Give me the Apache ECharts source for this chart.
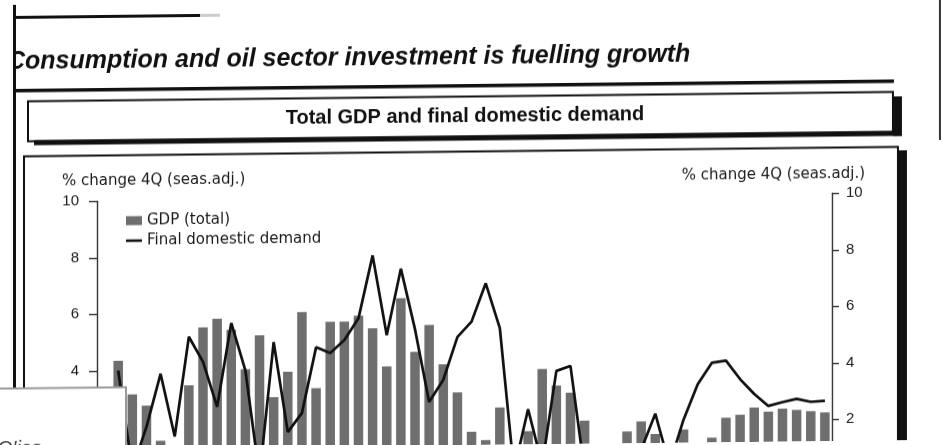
<!DOCTYPE html>
<html>
<head>
<meta charset="utf-8">
<script src="https://cdn.jsdelivr.net/npm/echarts@6/dist/echarts.min.js"></script>
<style>
  html, body { margin: 0; padding: 0; background: #fff; overflow: hidden; }
  /* the printed page is slightly skewed */
  #page { width: 943px; height: 445px; transform: skewY(-0.62deg); transform-origin: 50% 50%; }
</style>
</head>
<body>
<div id="page"></div>
<script>
// Quarterly categories (first slot left empty, as on the printed axis)
const quarters = [
  '1984Q1','1984Q2','1984Q3','1984Q4','1985Q1','1985Q2','1985Q3','1985Q4',
  '1986Q1','1986Q2','1986Q3','1986Q4','1987Q1','1987Q2','1987Q3','1987Q4',
  '1988Q1','1988Q2','1988Q3','1988Q4','1989Q1','1989Q2','1989Q3','1989Q4',
  '1990Q1','1990Q2','1990Q3','1990Q4','1991Q1','1991Q2','1991Q3','1991Q4',
  '1992Q1','1992Q2','1992Q3','1992Q4','1993Q1','1993Q2','1993Q3','1993Q4',
  '1994Q1','1994Q2','1994Q3','1994Q4','1995Q1','1995Q2','1995Q3','1995Q4',
  '1996Q1','1996Q2','1996Q3','1996Q4'
];

// % change over 4 quarters, seasonally adjusted
const gdpTotal = [null,
  4.35, 3.15, 2.75, 1.5, 1.1, 3.45, 5.5, 5.8, 5.4, 4.0,
  5.2, 3.0, 3.9, 6.0, 3.3, 5.65, 5.65, 5.85, 5.4, 4.05,
  6.45, 4.55, 5.5, 4.1, 3.1, 1.7, 1.4, 2.55, 0.9, 1.7,
  3.9, 3.3, 3.05, 2.05, 0.9, 0.9, 1.65, 2.0, 1.55, 0.9,
  1.7, 0.9, 1.4, 2.1, 2.2, 2.45, 2.3, 2.4, 2.35, 2.3, 2.25
];
const finalDomesticDemand = [null,
  4.0, 0.5, 2.0, 3.87, 1.65, 5.17, 4.28, 2.68, 5.64, 3.95,
  0.2, 4.95, 1.76, 2.43, 4.75, 4.54, 4.99, 5.76, 7.98, 5.15,
  7.5, 5.35, 2.77, 3.55, 5.06, 5.6, 6.95, 5.36, 0.3, 2.48,
  0.5, 3.82, 3.99, 0.25, 0.3, 0.6, 0.5, 1.0, 2.27, 0.45,
  2.05, 3.29, 4.05, 4.12, 3.46, 2.93, 2.5, 2.63, 2.74, 2.63, 2.66
];

// value axis range and tick step (both sides share the same scale)
const axisMin = -4;
const axisMax = 10;
const axisStep = 2;

const headline = 'Consumption and oil sector investment is fuelling growth';
const boxTitle = 'Total GDP and final domestic demand';
const axisTitle = '% change 4Q (seas.adj.)';
const legendNames = ['GDP (total)', 'Final domestic demand'];

const ink = '#111';
const barGrey = '#6e6e6e';
const sansFont = '"Liberation Sans", Arial, sans-serif';
const wideFont = '"DejaVu Sans", sans-serif';

const chart = echarts.init(document.getElementById('page'), null, { renderer: 'canvas' });

const unit = 28.25;            // px per percentage point
const gridTop = 197.3;

const valueAxis = (side, margin, tickLen) => ({
  type: 'value',
  position: side,
  min: axisMin,
  max: axisMax,
  interval: axisStep,
  axisLine: { show: true, lineStyle: { color: '#333', width: 1.4 } },
  axisTick: { show: true, inside: false, length: tickLen, lineStyle: { color: '#333', width: 1.4 } },
  axisLabel: { margin: margin, color: '#1a1a1a', fontFamily: sansFont, fontSize: 15 },
  splitLine: { show: false }
});

chart.setOption({
  animation: false,
  backgroundColor: '#fff',
  grid: {
    left: 97, right: 111, top: gridTop, height: (axisMax - axisMin) * unit,
    containLabel: false, outerBoundsMode: 'none'
  },
  legend: {
    orient: 'vertical',
    left: 126, top: 209,
    padding: 0,
    itemWidth: 16, itemHeight: 9, itemGap: 4,
    symbolKeepAspect: true,
    textStyle: { fontFamily: wideFont, fontSize: 15, color: '#1a1a1a', lineHeight: 16 },
    data: [
      { name: legendNames[0], icon: 'rect', itemStyle: { color: barGrey } },
      { name: legendNames[1], icon: 'path://M0,0 L16,0 L16,2.6 L0,2.6 Z', itemStyle: { color: ink } }
    ]
  },
  xAxis: {
    type: 'category',
    data: quarters,
    axisLine: { show: false },
    axisTick: { show: false },
    axisLabel: { show: false }
  },
  yAxis: [valueAxis('left', 18, 8), valueAxis('right', 14, 7)],
  series: [
    {
      type: 'bar', name: legendNames[0], data: gdpTotal, yAxisIndex: 0,
      barWidth: 9.5, itemStyle: { color: barGrey }, z: 2
    },
    {
      type: 'line', name: legendNames[1], data: finalDomesticDemand, yAxisIndex: 1,
      symbol: 'none', lineStyle: { color: ink, width: 2.7 }, itemStyle: { color: ink }, z: 3
    }
  ],
  graphic: [
    // short rule at the very top of the page
    { type: 'rect', z: 10, shape: { x: 14, y: 11, width: 186, height: 3 }, style: { fill: ink } },
    { type: 'rect', z: 10, shape: { x: 200, y: 11, width: 20, height: 3 }, style: { fill: '#ccc' } },
    // headline
    { type: 'text', z: 10, style: { x: 7, y: 57, text: headline, font: 'italic bold 25px ' + sansFont, fill: ink, verticalAlign: 'middle' } },
    // page margin and its border line
    { type: 'rect', z: 11, shape: { x: 0, y: 0, width: 13, height: 445 }, style: { fill: '#fff' } },
    { type: 'rect', z: 11, shape: { x: 13, y: -10, width: 3, height: 470 }, style: { fill: ink } },
    // rule under the headline
    { type: 'rect', z: 10, shape: { x: 14, y: 84, width: 880, height: 3.5 }, style: { fill: ink } },
    // chart title box with drop shadow
    { type: 'rect', z: 10, shape: { x: 34, y: 135.5, width: 868, height: 5 }, style: { fill: ink } },
    { type: 'rect', z: 10, shape: { x: 893, y: 101, width: 9, height: 39.5 }, style: { fill: ink } },
    { type: 'rect', z: 10, shape: { x: 28, y: 96.5, width: 865, height: 40 }, style: { fill: 'none', stroke: ink, lineWidth: 2 } },
    { type: 'text', z: 10, style: { x: 465, y: 116.5, text: boxTitle, font: 'bold 20px ' + sansFont, fill: ink, align: 'center', verticalAlign: 'middle' } },
    // chart frame with drop shadow
    { type: 'rect', z: 10, shape: { x: 24, y: 151.5, width: 874, height: 400 }, style: { fill: 'none', stroke: ink, lineWidth: 2 } },
    { type: 'rect', z: 10, shape: { x: 898, y: 155, width: 9, height: 400 }, style: { fill: ink } },
    // right page edge
    { type: 'rect', z: 10, shape: { x: 939, y: -10, width: 2, height: 155 }, style: { fill: '#333' } },
    // axis titles
    { type: 'text', z: 10, style: { x: 62, y: 177, text: axisTitle, font: '15px ' + wideFont, fill: '#1a1a1a', verticalAlign: 'middle' } },
    { type: 'text', z: 10, style: { x: 865, y: 178.2, text: axisTitle, font: '15px ' + wideFont, fill: '#1a1a1a', align: 'right', verticalAlign: 'middle' } },
    // pasted note in the lower left corner
    { type: 'rect', z: 20, shape: { x: -3, y: 383.6, width: 129, height: 90 }, style: { fill: '#fff', stroke: '#999', lineWidth: 2 } },
    { type: 'text', z: 21, style: { x: -3, y: 434, text: "O'ico", font: 'italic 20px ' + sansFont, fill: '#444' } }
  ]
});
</script>
</body>
</html>
